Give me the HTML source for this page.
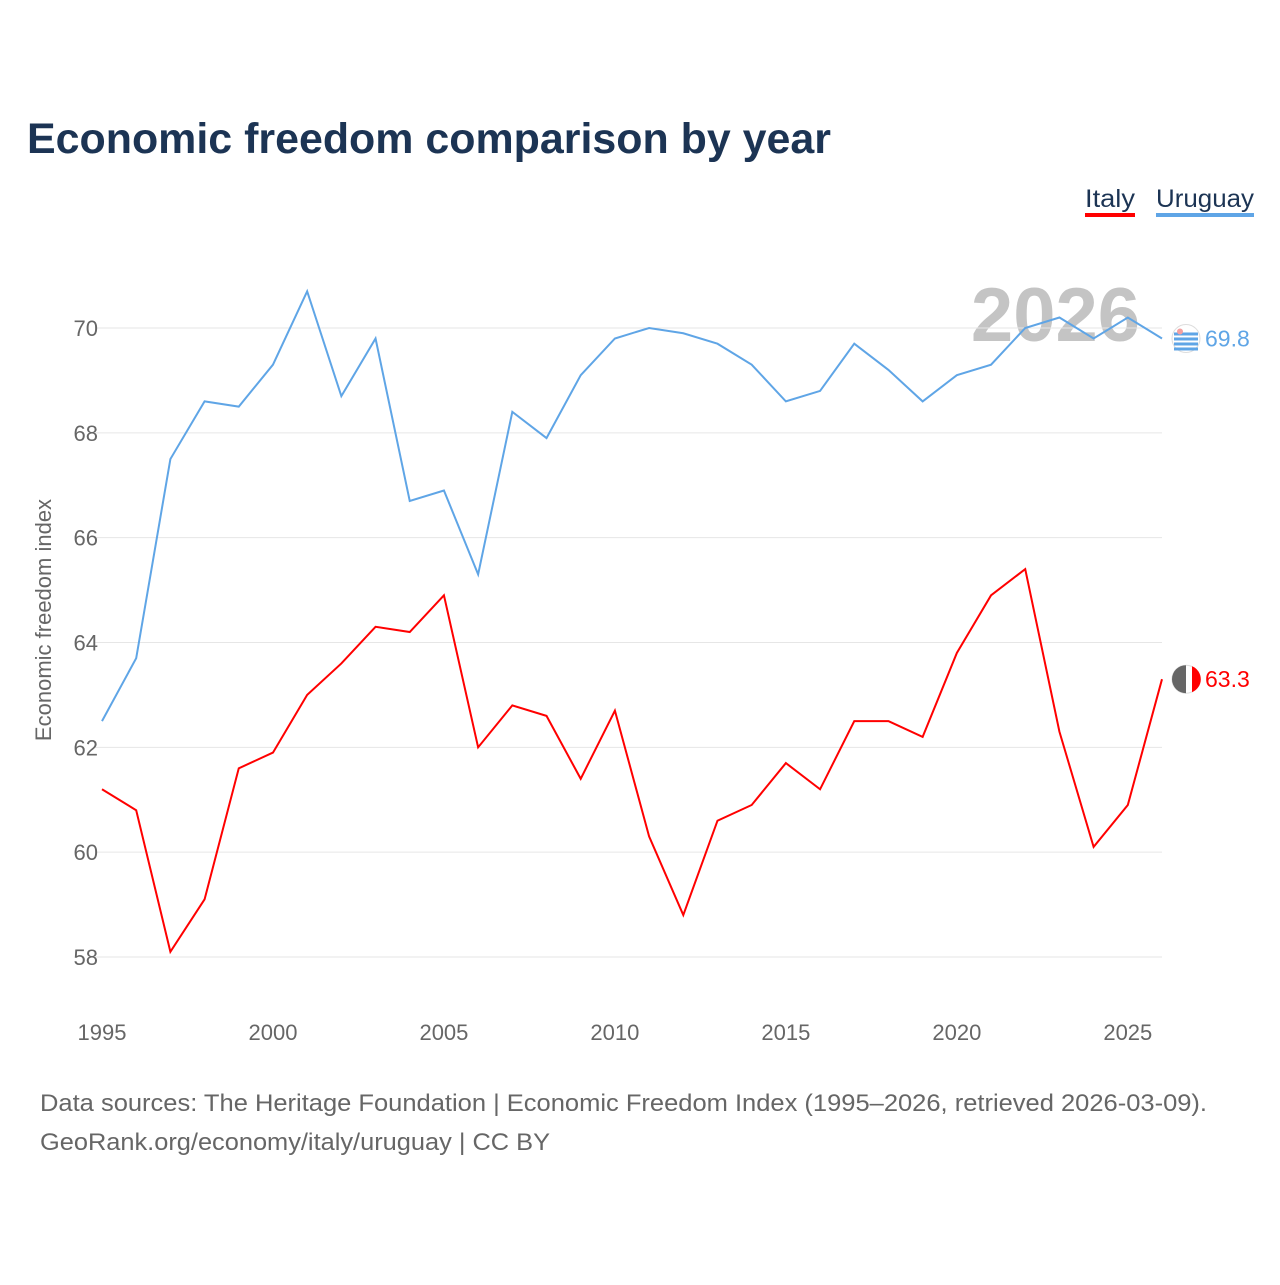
<!DOCTYPE html>
<html><head><meta charset="utf-8"><style>
body{margin:0;background:#fff;font-family:"Liberation Sans",sans-serif}
svg text{font-family:"Liberation Sans",sans-serif}
</style></head><body>
<svg width="1280" height="1280" xmlns="http://www.w3.org/2000/svg">
<text x="27" y="153" font-size="43" font-weight="bold" fill="#1c3454" textLength="804" lengthAdjust="spacingAndGlyphs">Economic freedom comparison by year</text>
<g>
<text x="1085" y="207" font-size="25" fill="#1c3454" textLength="50" lengthAdjust="spacingAndGlyphs">Italy</text>
<rect x="1085" y="213" width="50" height="4" fill="#ff0000"/>
<text x="1156" y="207" font-size="25" fill="#1c3454" textLength="98" lengthAdjust="spacingAndGlyphs">Uruguay</text>
<rect x="1156" y="213" width="98" height="4" fill="#5fa5e6"/>
</g>
<text x="1140" y="341" font-size="76" font-weight="bold" fill="#c4c4c4" text-anchor="end">2026</text>
<g id="grid"></g><g id="lines"></g>
<text transform="translate(51,620) rotate(-90)" font-size="22" fill="#666" text-anchor="middle">Economic freedom index</text>
<text x="40" y="1111" font-size="24" fill="#666" textLength="1167" lengthAdjust="spacingAndGlyphs">Data sources: The Heritage Foundation | Economic Freedom Index (1995–2026, retrieved 2026-03-09).</text>
<text x="40" y="1150" font-size="24" fill="#666" textLength="510" lengthAdjust="spacingAndGlyphs">GeoRank.org/economy/italy/uruguay | CC BY</text>
</svg>
<script>
const years=[];for(let y=1995;y<=2026;y++)years.push(y);
const uruguay=[62.5,63.7,67.5,68.6,68.5,69.3,70.7,68.7,69.8,66.7,66.9,65.3,68.4,67.9,69.1,69.8,70.0,69.9,69.7,69.3,68.6,68.8,69.7,69.2,68.6,69.1,69.3,70.0,70.2,69.8,70.2,69.8];
const italy=[61.2,60.8,58.1,59.1,61.6,61.9,63.0,63.6,64.3,64.2,64.9,62.0,62.8,62.6,61.4,62.7,60.3,58.8,60.6,60.9,61.7,61.2,62.5,62.5,62.2,63.8,64.9,65.4,62.3,60.1,60.9,63.3];
const yTicks=[58,60,62,64,66,68,70];
const xTicks=[1995,2000,2005,2010,2015,2020,2025];
const X=y=>102+(y-1995)*(1162-102)/31;
const Y=v=>957-(v-58)*(957-328)/12;
const NS="http://www.w3.org/2000/svg";
const grid=document.getElementById('grid'),lines=document.getElementById('lines');
function mk(tag,attrs,parent){const e=document.createElementNS(NS,tag);for(const k in attrs)e.setAttribute(k,attrs[k]);parent.appendChild(e);return e;}
yTicks.forEach(t=>{
 const l=mk('line',{x1:95,x2:1162,y1:Y(t),y2:Y(t),stroke:'#e6e6e6','stroke-width':1},grid);
 
 
 const tx=mk('text',{x:98,y:Y(t)+8,'font-size':22,fill:'#666','text-anchor':'end'},grid);tx.textContent=t;
 
 
});
xTicks.forEach(t=>{
 const tx=mk('text',{x:X(t),y:1040,'font-size':22,fill:'#666','text-anchor':'middle'},grid);tx.textContent=t;
 
 
});
function series(vals,color,name){
 const p=mk('polyline',{points:vals.map((v,i)=>X(years[i])+','+Y(v)).join(' '),fill:'none',stroke:color,'stroke-width':2},lines);
 
 
 const last=vals[vals.length-1],cy=Y(last);
 const c=mk('circle',{cx:1186,cy:cy,r:14,fill:'#fff',stroke:'#ddd'},lines);
 
 
 if(name==='italy'){
  mk('path',{d:`M1186,${cy-14} A14,14 0 0,0 1186,${cy+14} Z`,fill:'#666'},lines);
  mk('path',{d:`M1192,${cy-13} A14,14 0 0,1 1192,${cy+13} Z`,fill:'#ff0000'},lines);
 } else {
  [-6,-1,4,9].forEach(d=>mk('rect',{x:1174,y:cy+d,width:24,height:3,fill:'#5fa5e6'},lines));
  mk('circle',{cx:1180,cy:cy-7,r:3,fill:'#f4a0a0'},lines);
 }
 const t=mk('text',{x:1205,y:cy+8,'font-size':23,fill:color},lines);t.textContent=last.toFixed(1);
 
 
}
series(uruguay,'#5fa5e6','uruguay');
series(italy,'#ff0000','italy');
</script>
</body></html>
